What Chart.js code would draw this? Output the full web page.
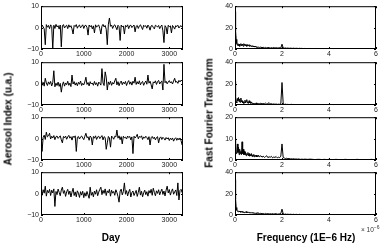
<!DOCTYPE html>
<html>
<head>
<meta charset="utf-8">
<script src="https://cdn.jsdelivr.net/npm/chart.js@4"></script>
<style>
  body { margin: 0; background: #fff; }
  #fig { position: relative; width: 382px; height: 246px; overflow: hidden; font-family: "Liberation Sans", Arial, sans-serif; }
  #fig canvas { position: absolute; }
  .title { position: absolute; font-weight: bold; font-size: 10px; white-space: nowrap; color: #000; transform: translate(-50%, -50%); }
  .rot { transform: translate(-50%, -50%) rotate(-90deg); }
  .exp { position: absolute; font-size: 6.5px; color: #333; white-space: nowrap; }
  .exp sup { font-size: 5px; }
</style>
</head>
<body>
<div id="fig">
  <canvas id="a1"></canvas><canvas id="a2"></canvas><canvas id="a3"></canvas><canvas id="a4"></canvas>
  <canvas id="f1"></canvas><canvas id="f2"></canvas><canvas id="f3"></canvas><canvas id="f4"></canvas>
  <div class="title rot" style="left:8px;top:119px">Aerosol Index (u.a.)</div>
  <div class="title rot" style="left:209px;top:113px">Fast Fourier Transform</div>
  <div class="title" style="left:111px;top:237px">Day</div>
  <div class="title" style="left:306px;top:237px">Frequency (1E−6 Hz)</div>
  <div class="exp" style="left:361px;top:224px">× 10<sup>−6</sup></div>
</div>
<script>
// day grid of the time series (every 25 days)
const days = [];
for (let i = 0; i <= 132; i++) days.push(i * 25);

// frequency grid, in units of 1E-6 Hz
const freqs = [];
for (let i = 0; i <= 40; i++) freqs.push(+(i * 0.025).toFixed(3));
for (let i = 1; i <= 39; i++) freqs.push(+(1 + i * 0.05).toFixed(3));
for (let i = 1; i <= 30; i++) freqs.push(+(3 + i * 0.1).toFixed(3));

const dayTicks = [0, 1000, 2000, 3000];
const freqTicks = [0, 2, 4, 6];
const aerosolTicks = [-10, 0, 10];
const fftTicks = [[0, 20, 40], [0, 20, 40], [0, 10, 20], [0, 20, 40]];

// aerosol index, one array per panel
const aerosol1 = [
  -1.5, 1.2, 0.4, -0.6, -8, 1.4, 0.2, 1.0, -0.5, 1.3,
  0.6, -10, 1.1, -0.4, 1.5, 0.3, 0.9, -0.7, 1.2, -9,
  0.8, 1.4, -0.2, 0.7, 1.1, -0.5, 1.3, 0.2, 0.9, -0.6,
  -3, 1.0, 0.5, 1.4, -0.3, 0.8, 1.2, -0.1, 0.6, 1.3,
  -0.4, 0.9, 1.1, 0.1, -3.5, 1.2, 0.4, 1.0, -0.6, 0.8,
  -2.5, 1.3, 0.2, 0.9, 1.2, -0.5, -3, 0.7, 1.5, 0.3,
  1.0, -0.8, -8, 1.6, 4.5, 0.6, 1.2, -0.4, 0.9, 1.3,
  0.2, -1.0, 1.1, 0.5, -6, 1.2, 0.3, 0.8, -3, 1.0,
  0.4, 1.3, -0.5, 0.9, 1.1, 0.0, 0.7, 1.2, -2, 0.6,
  1.0, -0.4, 0.8, 1.3, 0.2, -0.9, 1.1, 0.5, 0.9, -0.3,
  1.2, 0.4, -1.2, 0.8, 1.0, 0.1, -0.6, 1.1, 0.7, 0.3,
  1.0, -0.5, 0.6, 1.2, -1.5, -7, 0.9, 0.2, -3, 1.1,
  0.4, 0.8, -2.5, 1.0, 0.3, -0.7, 0.9, 0.5, 1.1, -0.2,
  0.6, 0.9, 0.2
];
const aerosol2 = [
  3.5, -0.8, 0.6, -1.2, 2.5, 0.3, -0.9, 0.8, -0.3, 1.0,
  -1.1, 0.4, 6, -1.5, 0.2, -0.9, 0.7, -1.3, 0.1, -4,
  -0.6, 0.8, -1.2, 0.3, -0.5, 1.1, -0.8, 0.2, -1.4, 4,
  -0.2, 0.9, -0.7, 0.4, -1.0, 0.6, -0.3, 1.2, -0.9, 0.1,
  -0.6, 0.8, 3, -0.4, 0.5, -1.1, 0.9, -0.2, 0.3, -0.8,
  1.0, -0.5, 0.4, -1.2, 0.7, 0.1, -0.7, 7, 0.3, -0.9,
  5.5, 3, -3, 0.8, -0.4, 1.1, -0.8, 0.5, -0.2, 1.3,
  2.5, -0.6, 0.9, -1.0, 0.4, 1.2, -0.5, 0.7, -0.1, 1.0,
  -0.9, 0.6, 1.4, -0.3, 0.8, -0.7, 1.1, 0.2, 3, -0.4,
  0.9, -0.2, 1.3, -0.6, 0.5, 1.0, -0.8, 0.4, 1.2, -0.3,
  4, 0.2, 1.1, -0.5, -2.5, 0.8, 0.3, 1.3, -0.4, 0.9,
  1.5, -0.2, 0.7, 1.2, -3, 9, 0.4, 1.1, -0.1, 0.8,
  1.4, 0.3, 0.9, -0.2, 1.2, 2.5, 0.6, 1.0, 0.1, 1.5,
  0.8, 1.6, 1.2
];
const aerosol3 = [
  1.0, -6, 0.5, 1.6, -0.4, 3, 0.8, 1.3, 2.5, -0.2,
  1.1, 0.3, 1.4, -0.5, 0.9, 1.2, 0.1, 0.7, 1.3, -0.6,
  -2, 1.0, 0.4, 1.2, -0.3, 0.8, 1.5, 0.2, 0.9, -0.7,
  1.1, 0.5, 1.3, -6, 0.6, 1.0, -0.2, 0.8, 1.2, 0.3,
  -0.5, 1.1, 2.5, 0.4, 0.9, -0.8, 1.2, 0.6, -3, 1.0,
  0.2, 1.3, -0.4, 0.8, 1.1, 0.0, 0.7, 1.4, -0.6, 0.9,
  0.5, -5, -2, 1.0, 0.3, -4, 1.2, 0.6, -0.3, 1.1,
  0.8, 4, 0.2, 1.3, -0.5, 0.9, -2.5, 1.1, 0.4, 0.7,
  -0.2, 1.2, 0.5, 1.0, -0.6, 0.8, -7, 1.1, 0.3, 0.9,
  2, -0.1, 1.0, 0.6, 1.3, -0.4, 0.8, 0.2, 1.1, 0.5,
  -0.5, 0.9, -3, 0.4, 1.0, 0.0, 0.7, -0.6, 0.5, 0.9,
  -2, 0.3, 0.8, -0.4, 0.6, 0.1, -0.7, 0.5, -0.2, 0.4,
  -0.9, 0.2, -0.5, 0.3, -1.2, -0.1, 0.4, -0.8, 0.2, -0.6,
  0.3, -1.0, -3
];
const aerosol4 = [
  2.5, -0.8, 1.8, 0.2, 3.5, -1.2, 1.5, 0.4, 2.0, -0.9,
  1.6, 0.3, 2.2, -6, 1.0, -0.5, 2.1, 0.6, -1.0, 1.7,
  3, 0.1, 1.4, -1.3, 0.9, 2.0, -0.4, 1.2, -1.6, 0.7,
  2.5, -0.9, 0.8, -1.5, 1.3, 0.2, -1.8, 0.9, -0.7, 1.1,
  -1.9, 0.4, -1.2, 1.0, -0.6, -2.2, 3, -0.8, 0.6, -1.5,
  1.2, -0.3, 1.8, -1.0, 0.7, 2.0, 3, -0.5, 1.5, 0.1,
  2.2, -0.9, 1.3, 0.4, 2.0, -1.2, 1.6, 0.2, 1.0, -0.8,
  1.8, 0.5, -1.4, -4, 1.2, 2.1, -0.6, 0.9, 5, -0.3,
  1.4, -1.1, 0.8, 2.0, -1.6, 0.5, 1.2, -0.9, 0.3, 1.5,
  -1.3, 0.6, 3, -0.7, 1.1, -1.5, 0.4, 1.6, -0.5, 0.9,
  -1.2, 1.4, 0.2, 2.0, -0.8, 2.5, 0.6, -1.0, 1.3, 0.1,
  1.8, -0.6, 0.9, 2.1, -0.4, 1.2, -1.1, 1.6, 3.5, 0.3,
  1.9, -0.7, 1.0, 2.2, -0.3, 0.8, 1.7, -0.9, 5, -3,
  1.5, 2.0, 0.4
];

// FFT amplitude, one array per panel
const fft1 = [
  35, 17, 9, 5, 3.5, 5, 3, 4.5, 2.5, 4, 5, 3, 4.5, 3.5, 2.5, 5, 3.5, 4.5, 3, 4,
  2.5, 4, 3, 3.5, 2.5, 4, 2.8, 3.2, 2.2, 3, 2.4, 2.8, 2, 2.6, 1.8, 2.4, 1.6, 2.2, 1.5, 2, 1.7,
  1.4, 1.8, 1.2, 1.6, 1.1, 1.5, 1.0, 1.4, 1.2, 0.9, 1.3, 1.0, 1.4, 0.9, 1.2, 1.0, 1.1, 1.3, 0.9, 4.5,
  1.0, 0.8, 1.0, 0.7, 0.9, 0.6, 0.8, 0.7, 0.6, 0.8, 0.5, 0.7, 0.6, 0.5, 0.7, 0.5, 0.6, 0.4, 0.5,
  0.4, 0.5, 0.3, 0.5, 0.4, 0.3, 0.4, 0.3, 0.4, 0.3, 0.3, 0.4, 0.2, 0.3, 0.3,
  0.2, 0.3, 0.3, 0.2, 0.3, 0.2, 0.3, 0.2, 0.2, 0.3, 0.2, 0.2, 0.3, 0.2, 0.2
];
const fft2 = [
  22, 8, 3, 2, 6, 4, 7, 3, 5.5, 2.5, 6.5, 3, 4, 2, 3, 1.5, 2.5, 4.5, 2, 3.5,
  5, 2, 3, 1.5, 4, 2, 3, 1.5, 2.5, 1.5, 2, 1.2, 1.8, 1, 1.5, 1.2, 2, 1, 1.4, 1.8, 1.1,
  1.3, 1.6, 1.0, 1.4, 1.2, 1.8, 0.9, 1.3, 2.2, 1.0, 1.2, 0.8, 1.0, 0.7, 0.9, 0.6, 0.8, 0.7, 1.2, 21,
  1.5, 0.6, 0.8, 0.5, 0.6, 0.4, 0.5, 0.6, 0.4, 0.5, 0.3, 0.4, 0.5, 0.3, 0.4, 0.3, 0.4, 0.3, 0.4,
  0.3, 0.4, 0.2, 0.3, 0.3, 0.2, 0.4, 0.2, 0.3, 0.2, 0.3, 0.2, 0.2, 0.3, 0.2,
  0.2, 0.3, 0.2, 0.2, 0.3, 0.2, 0.2, 0.2, 0.3, 0.2, 0.2, 0.2, 0.2, 0.3, 0.2
];
const fft3 = [
  10, 5, 3, 4, 7.5, 3.5, 6, 2.5, 5, 3, 4, 2.5, 8.5, 3, 5, 2.5, 4, 2.5, 3.5, 2,
  3, 2.5, 3.5, 2, 3, 1.8, 2.5, 2, 3, 1.6, 2.4, 1.8, 2.6, 1.5, 2.2, 1.7, 2.3, 1.4, 2, 1.6, 2.2,
  1.5, 2.0, 1.3, 1.8, 1.2, 1.6, 2.0, 1.1, 1.5, 1.3, 1.7, 1.0, 1.4, 1.2, 1.6, 1.0, 1.3, 1.1, 1.8, 7.5,
  1.2, 0.9, 0.7, 0.8, 0.6, 0.7, 0.5, 0.6, 0.5, 0.6, 0.4, 0.5, 0.4, 0.5, 0.4, 0.3, 0.4, 0.3, 0.4,
  0.3, 0.4, 0.3, 0.2, 0.3, 0.3, 0.2, 0.3, 0.2, 0.3, 0.2, 0.2, 0.3, 0.2, 0.2,
  0.2, 0.3, 0.2, 0.2, 0.2, 0.2, 0.3, 0.2, 0.2, 0.2, 0.2, 0.2, 0.3, 0.2, 0.2
];
const fft4 = [
  33, 15, 7, 4.5, 3.5, 4, 3, 3.5, 2.8, 3.6, 2.5, 3.2, 2.6, 3.4, 2.4, 3, 2.2, 2.8, 2.5, 3.2,
  2.1, 2.7, 2.3, 2.9, 2, 2.5, 1.9, 2.4, 2.1, 1.8, 2.3, 1.7, 2.2, 1.6, 2, 1.5, 1.9, 1.4, 2.1, 1.5, 1.7,
  1.3, 1.6, 1.1, 1.4, 1.0, 1.5, 1.1, 1.3, 0.9, 1.2, 1.0, 1.3, 0.9, 1.1, 1.2, 0.8, 1.0, 1.1, 1.5, 5.5,
  1.2, 0.7, 0.9, 0.6, 0.8, 0.5, 0.7, 0.6, 0.5, 0.7, 0.4, 0.6, 0.5, 0.4, 0.6, 0.4, 0.5, 0.3, 0.4,
  0.4, 0.3, 0.4, 0.3, 0.3, 0.2, 0.3, 0.3, 0.2, 0.3, 0.2, 0.3, 0.2, 0.2, 0.3,
  0.2, 0.2, 0.3, 0.2, 0.2, 0.2, 0.3, 0.2, 0.2, 0.2, 0.2, 0.3, 0.2, 0.2, 0.2
];

const panelTops = [6, 62, 117, 172];
const panelH = 43;

// matlab-like box with inward tick marks
const boxTicks = {
  id: 'boxTicks',
  afterDraw(chart) {
    const { ctx, chartArea: a, scales: { x, y } } = chart;
    ctx.save();
    ctx.strokeStyle = '#000';
    ctx.lineWidth = 1;
    ctx.beginPath();
    x.ticks.forEach(t => {
      const px = Math.round(x.getPixelForValue(t.value)) + 0.5;
      ctx.moveTo(px, a.bottom); ctx.lineTo(px, a.bottom - 2);
      ctx.moveTo(px, a.top); ctx.lineTo(px, a.top + 2);
    });
    y.ticks.forEach(t => {
      const py = Math.round(y.getPixelForValue(t.value)) + 0.5;
      ctx.moveTo(a.left, py); ctx.lineTo(a.left + 2, py);
      ctx.moveTo(a.right, py); ctx.lineTo(a.right - 2, py);
    });
    ctx.stroke();
    ctx.strokeRect(a.left + 0.5, a.top + 0.5, a.right - a.left - 1, a.bottom - a.top - 1);
    ctx.restore();
  }
};

const tickFont = { family: '"Liberation Sans", Arial, sans-serif', size: 7 };
const asTicks = vals => vals.map(v => ({ value: v }));

function panel(id, canvasLeft, yAxisW, padRight, top, xs, ys, xMax, xTickVals, yTickVals) {
  const cv = document.getElementById(id);
  cv.width = 190;
  cv.height = 6 + panelH + 14;
  cv.style.left = canvasLeft + 'px';
  cv.style.top = (top - 6) + 'px';
  const pts = [];
  for (let i = 0; i < Math.min(xs.length, ys.length); i++) pts.push({ x: xs[i], y: ys[i] });
  return new Chart(cv, {
    type: 'line',
    data: { datasets: [{ data: pts, borderColor: '#000', borderWidth: 1, pointRadius: 0, tension: 0 }] },
    options: {
      responsive: false,
      devicePixelRatio: 1,
      animation: false,
      events: [],
      layout: { padding: { left: 0, right: padRight, top: 6, bottom: 0 } },
      plugins: { legend: { display: false }, tooltip: { enabled: false } },
      scales: {
        x: {
          type: 'linear', min: 0, max: xMax,
          grid: { display: false, drawTicks: false }, border: { display: false },
          afterBuildTicks(s) { s.ticks = asTicks(xTickVals); },
          ticks: { maxRotation: 0, autoSkip: false, padding: 1, color: '#222', font: tickFont,
                   callback: v => String(v) },
          afterFit(s) { s.height = 14; }
        },
        y: {
          min: yTickVals[0], max: yTickVals[yTickVals.length - 1],
          grid: { display: false, drawTicks: false }, border: { display: false },
          afterBuildTicks(s) { s.ticks = asTicks(yTickVals); },
          ticks: { autoSkip: false, padding: 2, color: '#222', font: tickFont,
                   callback: v => String(v).replace('-', '\u2212') },
          afterFit(s) { s.width = yAxisW; }
        }
      }
    },
    plugins: [boxTicks]
  });
}

const aerosolSeries = [aerosol1, aerosol2, aerosol3, aerosol4];
const fftSeries = [fft1, fft2, fft3, fft4];

aerosolSeries.forEach((ys, k) => {
  panel('a' + (k + 1), 0, 41, 7, panelTops[k], days, ys, 3320, dayTicks, aerosolTicks);
});
fftSeries.forEach((ys, k) => {
  panel('f' + (k + 1), 192, 43, 6, panelTops[k], freqs, ys, 6, freqTicks, fftTicks[k]);
});
</script>
</body>
</html>
